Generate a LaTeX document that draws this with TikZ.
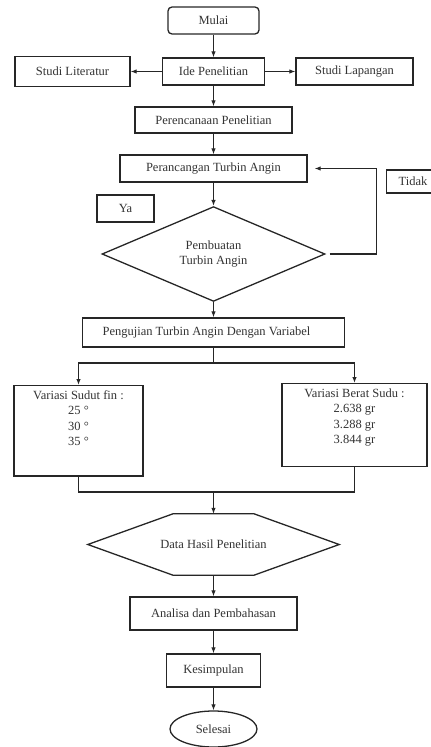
\documentclass[tikz,border=0pt]{standalone}
\usepackage{fontspec}
\setmainfont{Liberation Serif}
\usepackage{xcolor}
\usepackage{tikz}
\usetikzlibrary{positioning, arrows.meta, shapes.geometric}

\begin{document}
\begin{tikzpicture}[
  x=1pt, y=-1pt,
  every node/.style={
    font=\fontsize{12.5}{15.5}\selectfont,
    text=black!80,
    inner sep=0pt,
    align=center
  },
  box/.style={draw=black!85, line width=1.3pt},
  line/.style={draw=black!85, line width=1.1pt},
  arrow/.style={line, -{Latex[length=6pt,width=4.5pt]}}
]

\clip (0,0) rectangle (431,747);

% Start
\node (mulai) [box, rounded corners=4pt, minimum width=91, minimum height=27] at (213.5,20.5) {Mulai};

% Idea and studies
\node (ide) [box, minimum width=102, minimum height=27] at (213.5,71.5) {Ide Penelitian};
\node (literatur) [box, minimum width=115, minimum height=30] at (72.5,71.5) {Studi Literatur};
\node (lapangan) [box, minimum width=117, minimum height=27] at (354.5,71.5) {Studi Lapangan};

% Planning and design
\node (rencana) [box, minimum width=157, minimum height=26] at (213.5,120) {Perencanaan Penelitian};
\node (rancang) [box, minimum width=187, minimum height=27] at (213.5,168.5) {Perancangan Turbin Angin};
\node (ya) [box, minimum width=57, minimum height=27] at (125.5,208.5) {Ya};
\node (tidak) [box, anchor=west, minimum height=23, inner xsep=12pt, text width=48pt, align=left] at (386,181.5) {Tidak};

% Decision
\node (buat) [box, diamond, minimum width=223, minimum height=92] at (213.5,254) {Pembuatan\\Turbin Angin};

% Testing
\node (uji) [box, minimum width=262, minimum height=29] at (213.5,332.5) {Pengujian Turbin Angin Dengan Variabel\hspace*{14pt}};
\coordinate (split) at (213.5,363);
\node (sudut) [box, anchor=north, minimum width=129, inner ysep=5pt, text depth=25pt] at (78.5,385)
  {Variasi Sudut fin :\\25 °\\30 °\\35 °};
\node (berat) [box, anchor=north, minimum width=145, inner ysep=5pt, text depth=18pt] at (354.5,383)
  {Variasi Berat Sudu :\\2.638 gr\\3.288 gr\\3.844 gr};
\coordinate (join) at (213.5,492);

% Results
\node (hasil) [minimum width=251, minimum height=61] at (213.5,544.5) {Data Hasil Penelitian};
\draw[box] (hasil.west) -- ([xshift=-40.5pt]hasil.north) -- ([xshift=40.5pt]hasil.north)
  -- (hasil.east) -- ([xshift=40.5pt]hasil.south) -- ([xshift=-40.5pt]hasil.south) -- cycle;
\node (analisa) [box, minimum width=167, minimum height=33] at (213.5,613.5) {Analisa dan Pembahasan};
\node (simpul) [box, minimum width=94, minimum height=33] at (213.5,670.5) {Kesimpulan};
\node (selesai) [box, ellipse, minimum width=87, minimum height=36] at (213.5,729) {Selesai};

% Arrows
\draw[arrow] (mulai) -- (ide);
\draw[arrow] (ide) -- (literatur);
\draw[arrow] (ide) -- (lapangan);
\draw[arrow] (ide) -- (rencana);
\draw[arrow] (rencana) -- (rancang);
\draw[arrow] (rancang) -- (buat);
\draw[arrow, shorten <=4pt, shorten >=7pt] (buat.east) -- ++(51,0) |- (rancang.east);
\draw[arrow] (buat) -- (uji);
\draw[line] (uji) -- (split);
\draw[arrow] (split) -| (sudut.north);
\draw[arrow] (split) -| (berat.north);
\draw[line] (sudut.south) |- (join) -| (berat.south);
\draw[arrow] (join) -- (hasil.north);
\draw[arrow] (hasil) -- (analisa);
\draw[arrow] (analisa) -- (simpul);
\draw[arrow] (simpul) -- (selesai);

\end{tikzpicture}
\end{document}
